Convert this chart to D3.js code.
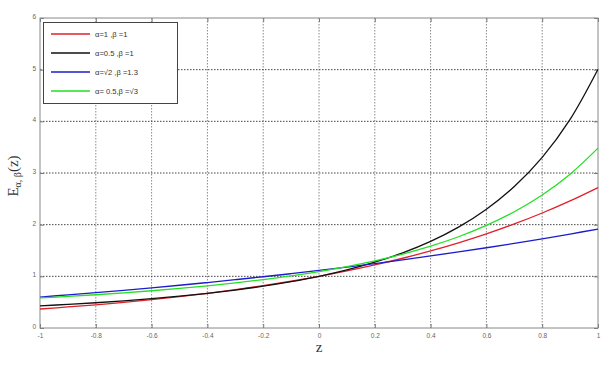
<!DOCTYPE html>
<html>
<head>
<meta charset="utf-8">
<script src="https://cdn.jsdelivr.net/npm/d3@7/dist/d3.min.js"></script>
<style>
    html, body { margin: 0; padding: 0; background: #fff; }
    svg { display: block; }
    .tick-label { font-family: Arial, "Liberation Sans", sans-serif; font-size: 6.5px; fill: #666; }
    .legend-label { font-family: Arial, "Liberation Sans", sans-serif; font-size: 7.6px; fill: #333; }
</style>
</head>
<body>
<svg id="chart" width="609" height="366"></svg>
<script>
// z samples (x axis)
var zValues = [-1, -0.9, -0.8, -0.7, -0.6, -0.5, -0.4, -0.3, -0.2, -0.1, 0,
               0.1, 0.2, 0.3, 0.4, 0.5, 0.6, 0.7, 0.8, 0.9, 1];

// alpha=1, beta=1
var redValues = [0.368, 0.407, 0.449, 0.497, 0.549, 0.607, 0.670, 0.741, 0.819, 0.905, 1.000,
                 1.105, 1.221, 1.350, 1.492, 1.649, 1.822, 2.014, 2.226, 2.460, 2.718];
// alpha=0.5, beta=1
var blackValues = [0.428, 0.457, 0.489, 0.526, 0.568, 0.616, 0.671, 0.735, 0.809, 0.897, 1.000,
                   1.124, 1.273, 1.454, 1.676, 1.952, 2.299, 2.739, 3.304, 4.039, 5.009];
// alpha=sqrt2, beta=1.3
var blueValues = [0.599, 0.641, 0.684, 0.730, 0.777, 0.827, 0.880, 0.935, 0.992, 1.052, 1.114,
                  1.180, 1.248, 1.320, 1.394, 1.472, 1.553, 1.638, 1.727, 1.819, 1.915];
// alpha=0.5, beta=sqrt3
var greenValues = [0.582, 0.611, 0.644, 0.681, 0.721, 0.766, 0.816, 0.873, 0.937, 1.009, 1.093,
                   1.189, 1.300, 1.430, 1.583, 1.766, 1.985, 2.250, 2.575, 2.978, 3.482];

var xTicks = [-1, -0.8, -0.6, -0.4, -0.2, 0, 0.2, 0.4, 0.6, 0.8, 1];
var xTickLabels = ['-1', '-0.8', '-0.6', '-0.4', '-0.2', '0', '0.2', '0.4', '0.6', '0.8', '1'];
var yTicks = [0, 1, 2, 3, 4, 5, 6];

var seriesNames = ['α=1 ,β =1', 'α=0.5 ,β =1', 'α=√2 ,β =1.3', 'α= 0.5,β =√3'];
var seriesColors = ['#e0202a', '#111111', '#1c1ccc', '#22e022'];
var seriesValues = [redValues, blackValues, blueValues, greenValues];

(function () {
    var left = 40, right = 598, plotTop = 18, bottom = 328;

    var svg = d3.select('#chart');

    var x = d3.scaleLinear().domain([-1, 1]).range([left, right]);
    var y = d3.scaleLinear().domain([0, 6]).range([bottom, plotTop]);

    // grid
    svg.append('g').selectAll('line')
        .data(xTicks.slice(1, -1))
        .enter().append('line')
        .attr('x1', function (d) { return x(d); })
        .attr('x2', function (d) { return x(d); })
        .attr('y1', plotTop).attr('y2', bottom)
        .attr('stroke', '#8a8a8a')
        .attr('stroke-width', 1)
        .attr('stroke-dasharray', '1.5,1.5');

    svg.append('g').selectAll('line')
        .data(yTicks.slice(1, -1))
        .enter().append('line')
        .attr('x1', left).attr('x2', right)
        .attr('y1', function (d) { return y(d); })
        .attr('y2', function (d) { return y(d); })
        .attr('stroke', '#444')
        .attr('stroke-width', 1)
        .attr('stroke-dasharray', '1.5,1.5');

    // axes (ticks inward)
    var xAxisBottom = d3.axisBottom(x).tickValues(xTicks).tickSize(-4)
        .tickFormat(function (d, i) { return xTickLabels[i]; });
    var gxb = svg.append('g').attr('transform', 'translate(0,' + bottom + ')').call(xAxisBottom);
    gxb.selectAll('text').attr('class', 'tick-label').attr('y', 4).attr('dy', '0.9em');

    var xAxisTop = d3.axisTop(x).tickValues(xTicks).tickSize(-4).tickFormat('');
    svg.append('g').attr('transform', 'translate(0,' + plotTop + ')').call(xAxisTop);

    var yAxisLeft = d3.axisLeft(y).tickValues(yTicks).tickSize(-4).tickFormat(d3.format('d'));
    var gyl = svg.append('g').attr('transform', 'translate(' + left + ',0)').call(yAxisLeft);
    gyl.selectAll('text').attr('class', 'tick-label').attr('x', -4).attr('dy', '0.1em');

    var yAxisRight = d3.axisRight(y).tickValues(yTicks).tickSize(-4).tickFormat('');
    svg.append('g').attr('transform', 'translate(' + right + ',0)').call(yAxisRight);

    svg.selectAll('.domain').remove();
    svg.selectAll('.tick line').attr('stroke', '#777');
    svg.selectAll('g').attr('font-size', null).attr('font-family', null);

    // frame
    svg.append('rect')
        .attr('x', left).attr('y', plotTop)
        .attr('width', right - left).attr('height', bottom - plotTop)
        .attr('fill', 'none')
        .attr('stroke', '#888')
        .attr('stroke-width', 1);

    // curves
    var line = d3.line()
        .x(function (d) { return x(d[0]); })
        .y(function (d) { return y(d[1]); })
        .curve(d3.curveCatmullRom);

    seriesValues.forEach(function (vals, i) {
        var pts = zValues.map(function (z, j) { return [z, vals[j]]; });
        svg.append('path')
            .datum(pts)
            .attr('d', line)
            .attr('fill', 'none')
            .attr('stroke', seriesColors[i])
            .attr('stroke-width', 1.3);
    });

    // legend
    var legend = svg.append('g');
    legend.append('rect')
        .attr('x', 43.5).attr('y', 22.5)
        .attr('width', 134).attr('height', 81)
        .attr('fill', '#fff')
        .attr('stroke', '#444')
        .attr('stroke-width', 1);

    seriesNames.forEach(function (name, i) {
        var ly = 34 + i * 19;
        legend.append('line')
            .attr('x1', 51).attr('x2', 90)
            .attr('y1', ly).attr('y2', ly)
            .attr('stroke', seriesColors[i])
            .attr('stroke-width', 1.4);
        legend.append('text')
            .attr('class', 'legend-label')
            .attr('x', 95).attr('y', ly + 2.7)
            .text(name);
    });

    // axis labels
    svg.append('text')
        .attr('x', 319).attr('y', 352)
        .attr('text-anchor', 'middle')
        .attr('font-family', '"Liberation Serif", "DejaVu Serif", serif')
        .attr('font-size', 15)
        .attr('fill', '#333')
        .text('z');

    var ylab = svg.append('text')
        .attr('transform', 'translate(18,176) rotate(-90)')
        .attr('text-anchor', 'middle')
        .attr('font-family', '"Liberation Serif", "DejaVu Serif", serif')
        .attr('fill', '#333');
    ylab.append('tspan').attr('font-size', 15).text('E');
    ylab.append('tspan').attr('font-size', 10).attr('dy', 3).text('α, β');
    ylab.append('tspan').attr('font-size', 15).attr('dy', -3).text('(z)');
})();
</script>
</body>
</html>
